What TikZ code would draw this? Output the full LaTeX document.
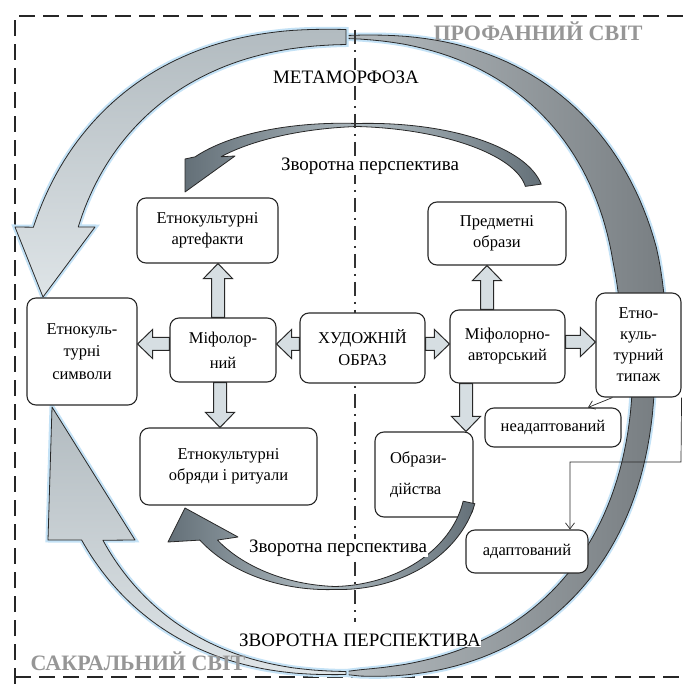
\documentclass[tikz,border=0pt]{standalone}
\usepackage{fontspec}
\setmainfont{Liberation Serif}
\usetikzlibrary{calc,arrows.meta}
\definecolor{bandlight}{RGB}{178,187,192}
\definecolor{bandlight2}{RGB}{222,228,231}
\definecolor{banddark}{RGB}{120,126,130}
\definecolor{banddark2}{RGB}{180,187,191}
\definecolor{innerdark}{RGB}{100,112,120}
\definecolor{innerlight}{RGB}{175,187,193}
\definecolor{glow}{RGB}{196,226,246}
\definecolor{arrfill}{RGB}{214,222,226}
\definecolor{edge}{RGB}{40,40,40}
\definecolor{worldtxt}{RGB}{150,150,150}
\tikzset{
  declare function={
    cs(\x)=sign(cos(\x))*(abs(cos(\x))+0.00001)^0.87;
    ss(\x)=sign(sin(\x))*(abs(sin(\x))+0.00001)^0.87;
    wra(\x)=min(45,3+42*(\x-270)/75);
    wrb(\x)=3+19*sqrt(abs(cos(\x)));
    wla(\x)=42-27*(\x-200)/70;
    wlb(\x)=3+15*(\x-90)/58;
    wur(\x)=3+13*(\x-270)/82;
    wul(\x)=3+12*(270-\x)/58;
    wdr(\x)=3+9*(90-\x)/78;
    wdl(\x)=3+10*(\x-90)/56;
  },
  boxst/.style={draw=edge, line width=1.1pt, rounded corners=9pt, fill=white, align=center,
    font=\fontsize{16.5}{21}\selectfont, inner sep=1pt},
  lbl/.style={font=\fontsize{19}{22}\selectfont, fill=white, inner sep=0.5pt},
  world/.style={font=\fontsize{22}{24}\selectfont\bfseries, text=worldtxt},
  frameline/.style={draw=black!85, line width=2pt, dash pattern=on 16pt off 8pt},
  midline/.style={draw=black!80, line width=1.3pt, dash pattern=on 14pt off 6pt on 2pt off 6pt},
  blockarr/.style={draw=edge, line width=1pt, fill=arrfill, line join=miter},
  conn/.style={draw=edge, line width=0.7pt, -{Straight Barb[length=6pt,width=9pt]}},
  bandbase/.style={draw=edge, line width=0.8pt, line join=round, preaction={draw=glow, line width=5pt}},
  bandL/.style={bandbase, top color=bandlight, bottom color=bandlight2},
  bandR/.style={bandbase, left color=banddark2, right color=banddark},
  innerband/.style={draw=edge, line width=0.8pt, line join=round, left color=innerdark, right color=innerdark, middle color=innerlight},
}
\newcommand\blockdraw{%
  \coordinate (ba-h) at ($(ba-e)!15pt!(ba-s)$);
  \draw[blockarr] ($(ba-s)!6.5pt!90:(ba-e)$) -- ($(ba-h)!6.5pt!90:(ba-e)$) -- ($(ba-h)!14.5pt!90:(ba-e)$) -- (ba-e) -- ($(ba-h)!14.5pt!-90:(ba-e)$) -- ($(ba-h)!6.5pt!-90:(ba-e)$) -- ($(ba-s)!6.5pt!-90:(ba-e)$) -- cycle;}
\newcommand\blockH[2]{%
  \coordinate (ba-s) at (#1);
  \coordinate (ba-e) at (#2 |- ba-s);
  \blockdraw}
\newcommand\blockV[2]{%
  \coordinate (ba-s) at (#1);
  \coordinate (ba-e) at (#2 -| ba-s);
  \blockdraw}
\begin{document}
\begin{tikzpicture}[x=1pt,y=-1pt]
\useasboundingbox (0,0) rectangle (686,684);
\fill[white] (0,0) rectangle (686,684);
% frame
\draw[frameline] (15,684) -- (15,16) -- (686,16);
\draw[frameline] (15,677) -- (686,677);
% outer bands
\path[bandR] plot[domain=270:357,samples=50] ({346+(298+wra(\x)/2)*cs(\x)},{355+(318+wra(\x)/2)*ss(\x)})
  -- plot[domain=357:270,samples=50] ({346+(298-wra(\x)/2)*cs(\x)},{355+(318-wra(\x)/2)*ss(\x)}) -- cycle;
\path[bandR] plot[domain=3:90,samples=50] ({346+(298+wrb(\x)/2)*cs(\x)},{355+(318+wrb(\x)/2)*ss(\x)})
  -- plot[domain=90:3,samples=50] ({346+(298-wrb(\x)/2)*cs(\x)},{355+(318-wrb(\x)/2)*ss(\x)}) -- cycle;
\path[bandL] plot[domain=270:199,samples=50] ({346+(307+wla(\x)/2)*cs(\x)},{355+(318+wla(\x)/2)*ss(\x)})
  -- (15,227) -- (43,297) -- (95,227)
  -- plot[domain=202.3:270,samples=50] ({346+(307-wla(\x)/2)*cs(\x)},{355+(318-wla(\x)/2)*ss(\x)}) -- cycle;
\path[bandL] plot[domain=90:148.7,samples=50] ({346+(294+wlb(\x)/2)*cs(\x)},{355+(318+wlb(\x)/2)*ss(\x)})
  -- (48,540) -- (52,407) -- (135,540)
  -- plot[domain=146.3:90,samples=50] ({346+(294-wlb(\x)/2)*cs(\x)},{355+(318-wlb(\x)/2)*ss(\x)}) -- cycle;
% upper inner arrow
\path[innerband] plot[domain=352:270,samples=40] ({357+(178+wur(\x)/2)*cos(\x)},{195+(70+wur(\x)/2)*sin(\x)})
  -- plot[domain=270:209.4,samples=40] ({357+(178+wul(\x)/2)*cos(\x)},{195+(70+wul(\x)/2)*sin(\x)})
  -- (185,159) -- (185,192) -- (235,156)
  -- plot[domain=217.4:270,samples=40] ({357+(178-wul(\x)/2)*cos(\x)},{195+(70-wul(\x)/2)*sin(\x)})
  -- plot[domain=270:352,samples=40] ({357+(178-wur(\x)/2)*cos(\x)},{195+(70-wur(\x)/2)*sin(\x)}) -- cycle;
% centre line
\draw[midline] (355,30) -- (355,622);
% boxes
\node[boxst, minimum width=141pt, minimum height=65pt] (art) at (207.5,230.5) {Етнокультурні\\артефакти};
\node[boxst, minimum width=110pt, minimum height=107pt] (sym) at (82,351.5) {Етнокуль-\\[1.5pt]турні\\[1.5pt]символи};
\node[boxst, minimum width=106pt, minimum height=64pt] (mif) at (223,350) {Міфолор-\\[4pt]ний};
\node[boxst, minimum width=125pt, minimum height=70pt] (xud) at (362.5,348) {ХУДОЖНІЙ\\[1pt]ОБРАЗ};
\node[boxst, minimum width=115pt, minimum height=73pt] (mifa) at (507.5,346.5) {Міфолорно-\\авторський};
\node[boxst, minimum width=85pt, minimum height=104pt] (typ) at (638.5,345) {Етно-\\куль-\\турний\\типаж};
\node[boxst, minimum width=138pt, minimum height=63pt] (pred) at (497,233.5) {Предметні\\образи};
\node[boxst, minimum width=136pt, minimum height=39pt] (nead) at (553,427.5) {неадаптований};
\node[boxst, minimum width=98pt, minimum height=85pt, text width=68pt, align=left] (obr) at (424,474.5) {Образи-\\[10pt]дійства};
\node[boxst, minimum width=177pt, minimum height=77pt] (rit) at (228.5,466.5) {Етнокультурні\\обряди і ритуали};
\node[boxst, minimum width=122pt, minimum height=43pt] (adapt) at (527,551.5) {адаптований};
% lower inner arrow
\path[innerband] plot[domain=12:90,samples=40] ({335+(137+wdr(\x)/2)*cos(\x)},{480+(108+wdr(\x)/2)*sin(\x)})
  -- plot[domain=90:148.4,samples=40] ({335+(152+wdl(\x)/2)*cos(\x)},{480+(108+wdl(\x)/2)*sin(\x)})
  -- (168,542) -- (185,508) -- (238,537)
  -- plot[domain=143.8:90,samples=40] ({335+(152-wdl(\x)/2)*cos(\x)},{480+(108-wdl(\x)/2)*sin(\x)})
  -- plot[domain=90:12,samples=40] ({335+(137-wdr(\x)/2)*cos(\x)},{480+(108-wdr(\x)/2)*sin(\x)}) -- cycle;
% block arrows
\blockH{[yshift=4pt]xud.west}{mif.east}
\blockH{[yshift=6pt]mif.west}{sym.east}
\blockV{[xshift=-5pt]mif.north}{art.south}
\blockV{[xshift=-3pt]mif.south}{rit.north}
\blockH{[yshift=4pt]xud.east}{mifa.west}
\blockH{[yshift=4.5pt]mifa.east}{typ.west}
\blockV{[xshift=-20.5pt]mifa.north}{pred.south}
\blockV{[xshift=-41.5pt]mifa.south}{obr.north}
% thin connectors
\draw[conn] ([xshift=-26pt]typ.south) -- ([xshift=35pt]nead.north);
\coordinate (bend) at (681,462);
\draw[conn] (typ.south east) -- (bend) -| ([xshift=43pt]adapt.north);
% labels
\node[lbl] (meta) at (346,77) {МЕТАМОРФОЗА};
\node[lbl] (zp1) at (370,166) {Зворотна перспектива};
\node[lbl] (zp2) at (338,548) {Зворотна перспектива};
\node[lbl] (zp3) at (360,640) {ЗВОРОТНА ПЕРСПЕКТИВА};
\node[world] (prof) at (538,31) {ПРОФАННИЙ СВІТ};
\node[world] (sacr) at (138,661) {САКРАЛЬНИЙ СВІТ};
\end{tikzpicture}
\end{document}
